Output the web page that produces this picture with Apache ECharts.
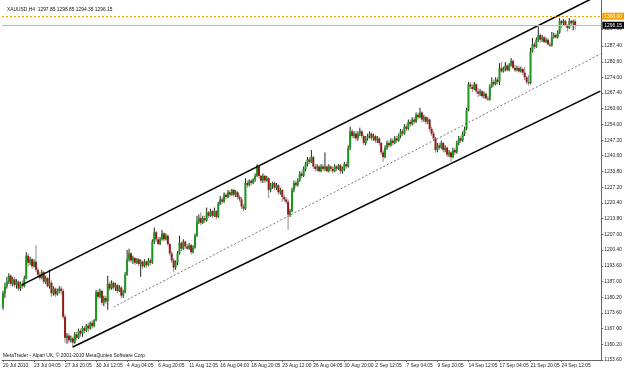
<!DOCTYPE html>
<html>
<head>
<meta charset="utf-8">
<script src="https://cdn.jsdelivr.net/npm/echarts@6/dist/echarts.min.js"></script>
<style>
  html, body { margin: 0; padding: 0; background: #fff; }
  #chart { width: 625px; height: 371px; }
</style>
</head>
<body>
<div id="chart"></div>
<script>
// time labels, one every 16 H4 bars
const xLabels = ["20 Jul 2010", "23 Jul 04:05", "27 Jul 20:05", "30 Jul 12:05", "4 Aug 04:05",
  "6 Aug 20:05", "11 Aug 12:05", "16 Aug 04:00", "18 Aug 20:05", "23 Aug 12:00", "26 Aug 04:05",
  "30 Aug 20:00", "2 Sep 12:05", "7 Sep 04:05", "9 Sep 20:05", "14 Sep 12:05", "17 Sep 04:05",
  "21 Sep 20:05", "24 Sep 12:05"];
const labelStep = 16;
const slotCount = 309; // bars + empty shift on the right

// [open, close, low, high]
const candles = [
  [1176, 1182, 1175, 1183], [1182, 1185, 1180, 1186.5], [1185, 1187, 1184, 1189], [1187, 1189.5, 1186, 1190.5],
  [1189.5, 1186, 1185, 1190], [1186, 1188, 1185, 1189], [1188, 1185.5, 1184.5, 1189], [1185.5, 1187, 1184, 1188],
  [1187, 1184, 1183, 1187.5], [1184, 1186, 1183, 1187], [1186, 1185, 1184, 1187.5], [1185, 1188.5, 1184.5, 1189.5],
  [1188.5, 1198, 1188, 1199.5], [1198, 1195, 1193.5, 1199], [1195, 1196.5, 1194, 1197.5], [1196.5, 1193.5, 1192.5, 1197],
  [1193.5, 1195.5, 1193, 1196.5], [1195.5, 1192, 1191, 1202.5], [1192, 1190, 1189, 1193], [1190, 1188.5, 1187.5, 1191],
  [1188.5, 1191, 1188, 1192], [1191, 1187, 1186, 1191.5], [1187, 1188.5, 1186, 1189.5], [1188.5, 1185, 1184.5, 1189],
  [1185, 1186.5, 1184, 1192], [1186.5, 1182, 1180.5, 1187.5], [1182, 1184, 1181, 1185], [1184, 1181.5, 1180.5, 1184.5],
  [1181.5, 1183, 1181, 1184], [1183, 1184, 1182, 1185], [1184, 1183, 1181.5, 1185], [1183, 1172, 1171, 1184],
  [1172, 1163, 1161, 1173], [1163, 1164, 1160.5, 1165], [1164, 1162, 1161, 1165], [1162, 1162.8, 1161, 1164],
  [1162.8, 1161, 1158.8, 1163.5], [1161, 1164.5, 1160.5, 1165.5], [1164.5, 1163, 1162, 1165.5], [1163, 1166, 1162.5, 1167],
  [1166, 1164.8, 1163.5, 1167], [1164.8, 1167.2, 1163.5, 1168], [1167.2, 1166, 1165, 1168], [1166, 1168.3, 1165.5, 1169],
  [1168.3, 1167, 1165.5, 1169.5], [1167, 1169.5, 1166.5, 1170], [1169.5, 1168, 1167, 1170.5], [1168, 1170.5, 1167.5, 1171],
  [1170.5, 1182.5, 1170, 1183.5], [1182.5, 1180.5, 1179.5, 1183.5], [1180.5, 1183, 1180, 1184], [1183, 1178, 1177, 1183.5],
  [1178, 1180, 1176.5, 1181], [1180, 1178.5, 1177.5, 1181], [1178.5, 1186, 1175, 1189.5], [1186, 1184, 1183, 1187],
  [1184, 1186.5, 1183.5, 1187.5], [1186.5, 1184.5, 1183.5, 1187], [1184.5, 1185.5, 1183, 1186.5], [1185.5, 1183, 1182, 1186],
  [1183, 1184.5, 1182.5, 1185.5], [1184.5, 1181, 1180, 1185], [1181, 1182.5, 1180, 1183.5], [1182.5, 1190, 1182, 1191],
  [1190, 1196.5, 1189.5, 1200.5], [1196.5, 1199, 1195.5, 1201], [1199, 1196, 1195, 1199.5], [1196, 1197, 1194.5, 1198],
  [1197, 1195, 1194, 1197.5], [1195, 1196.5, 1194.5, 1197], [1196.5, 1194.5, 1193.5, 1197], [1194.5, 1195.5, 1189, 1196.5],
  [1195.5, 1193.5, 1192.5, 1196], [1193.5, 1195.5, 1193, 1196.5], [1195.5, 1194, 1193, 1196], [1194, 1196, 1193.5, 1197],
  [1196, 1195, 1194, 1197], [1195, 1204, 1194.5, 1205], [1204, 1208, 1203, 1210], [1208, 1205, 1204, 1208.5],
  [1205, 1203, 1202.5, 1206], [1203, 1205, 1202.5, 1206], [1205, 1207.5, 1204.5, 1209], [1207.5, 1205, 1204, 1208],
  [1205, 1206.5, 1204.5, 1207.5], [1206.5, 1203, 1202, 1207], [1203, 1199, 1198, 1203.5], [1199, 1196, 1195, 1200],
  [1196, 1193, 1191, 1197], [1193, 1195, 1192, 1196], [1195, 1199, 1194, 1200], [1199, 1203.5, 1198.5, 1206.5],
  [1203.5, 1201, 1200, 1204], [1201, 1204, 1200.5, 1205], [1204, 1202, 1201, 1204.5], [1202, 1201, 1200.5, 1203],
  [1201, 1202.5, 1200.5, 1203.5], [1202.5, 1199.5, 1198.5, 1203], [1199.5, 1201.5, 1199, 1202.5], [1201.5, 1206.5, 1201, 1207.5],
  [1206.5, 1212.5, 1206, 1215], [1212.5, 1214, 1211.5, 1215.5], [1214, 1212, 1211, 1216.5], [1212, 1214, 1211.5, 1215],
  [1214, 1213, 1212, 1215], [1213, 1216.5, 1212.5, 1218.5], [1216.5, 1215, 1214, 1217], [1215, 1217, 1214.5, 1218],
  [1217, 1215, 1214, 1217.5], [1215, 1217, 1214.5, 1218.5], [1217, 1214.5, 1213.5, 1217.5], [1214.5, 1220, 1214, 1221],
  [1220, 1222, 1219.5, 1223.5], [1222, 1221, 1220, 1223], [1221, 1224, 1220.5, 1225], [1224, 1223, 1222, 1224.5],
  [1223, 1225, 1222.5, 1226], [1225, 1224, 1223, 1226], [1224, 1226, 1223.5, 1226.5], [1226, 1224, 1223, 1226.5],
  [1224, 1225, 1223, 1226], [1225, 1223, 1222, 1225.5], [1223, 1222, 1221, 1224], [1222, 1219, 1218, 1223],
  [1219, 1218, 1217, 1220], [1218, 1229, 1217.5, 1231], [1229, 1228, 1227, 1230], [1228, 1230, 1227.5, 1230.5],
  [1230, 1229, 1228, 1230.5], [1229, 1230.5, 1228.5, 1231], [1230.5, 1232, 1229.5, 1233], [1232, 1236, 1231.5, 1237],
  [1236, 1232, 1231, 1236.5], [1232, 1230, 1229, 1232.5], [1230, 1232, 1229, 1233], [1232, 1230, 1229, 1232.5],
  [1230, 1231, 1229.5, 1232], [1231, 1226, 1222.5, 1231.5], [1226, 1228, 1225, 1229], [1228, 1229, 1226.5, 1229.5],
  [1229, 1227, 1226, 1229.5], [1227, 1228, 1226, 1229], [1228, 1225, 1224, 1228.5], [1225, 1226, 1224, 1227],
  [1226, 1223, 1221, 1226.5], [1223, 1222, 1221, 1224], [1222, 1221, 1220, 1223], [1221, 1215.5, 1209, 1222],
  [1215.5, 1217, 1214.5, 1218], [1217, 1226, 1216.5, 1227], [1226, 1229, 1225, 1230], [1229, 1228, 1227, 1230],
  [1228, 1230, 1227.5, 1231], [1230, 1233, 1229.5, 1234], [1233, 1232, 1231, 1234], [1232, 1235, 1231.5, 1236],
  [1235, 1237, 1234, 1238], [1237, 1239, 1236, 1240], [1239, 1238, 1237, 1240], [1238, 1240, 1237.5, 1243],
  [1240, 1236, 1235, 1240.5], [1236, 1235, 1234, 1237], [1235, 1236, 1234, 1237], [1236, 1234, 1233.5, 1236.5],
  [1234, 1236, 1233.5, 1237], [1236, 1235, 1234, 1237], [1235, 1236, 1234, 1242], [1236, 1234, 1233.5, 1236.5],
  [1234, 1236, 1233.5, 1237], [1236, 1235, 1234, 1236.5], [1235, 1234, 1233, 1236], [1234, 1236, 1233.5, 1237],
  [1236, 1235, 1234, 1236.5], [1235, 1236.5, 1234.5, 1237], [1236.5, 1234, 1233, 1237], [1234, 1235, 1233, 1236],
  [1235, 1237, 1234, 1238], [1237, 1236, 1235, 1238], [1236, 1244, 1235.5, 1245], [1244, 1251, 1243, 1253],
  [1251, 1249, 1248, 1252], [1249, 1250, 1248, 1251], [1250, 1248, 1247, 1251], [1248, 1250, 1247, 1251],
  [1250, 1251, 1249, 1252.5], [1251, 1249, 1248, 1251.5], [1249, 1246, 1245, 1249.5], [1246, 1248, 1245, 1249],
  [1248, 1249, 1247, 1250], [1249, 1250, 1248, 1251], [1250, 1248, 1247, 1250.5], [1248, 1249, 1247, 1250],
  [1249, 1247, 1246, 1249.5], [1247, 1248, 1246, 1249], [1248, 1246, 1245, 1248.5], [1246, 1242, 1241, 1246.5],
  [1242, 1240, 1238, 1243], [1240, 1244, 1239.5, 1245], [1244, 1246, 1243, 1247], [1246, 1245, 1244, 1247],
  [1245, 1247, 1244.5, 1248], [1247, 1246, 1245, 1248], [1246, 1248, 1245.5, 1249], [1248, 1247, 1246, 1249],
  [1247, 1249, 1246.5, 1250], [1249, 1251, 1248, 1252], [1251, 1250, 1249, 1252], [1250, 1253, 1249.5, 1254],
  [1253, 1252, 1251, 1254], [1252, 1255, 1251.5, 1256], [1255, 1254, 1253, 1256], [1254, 1256, 1253.5, 1257],
  [1256, 1255, 1254, 1257], [1255, 1258, 1254.5, 1259], [1258, 1257, 1256, 1259], [1257, 1259, 1256.5, 1261],
  [1259, 1256, 1255, 1259.5], [1256, 1257, 1255, 1258], [1257, 1255, 1254, 1257.5], [1255, 1256, 1254, 1257],
  [1256, 1252, 1251, 1256.5], [1252, 1250, 1249, 1253], [1250, 1248, 1247, 1251], [1248, 1243, 1242, 1248.5],
  [1243, 1245, 1242, 1246], [1245, 1244, 1243, 1246], [1244, 1246, 1243.5, 1247], [1246, 1243, 1242, 1246.5],
  [1243, 1244, 1242, 1245], [1244, 1241, 1240, 1244.5], [1241, 1242, 1240, 1243], [1242, 1240, 1238, 1242.5],
  [1240, 1243, 1239.5, 1244], [1243, 1242, 1241, 1244], [1242, 1246, 1241.5, 1247], [1246, 1248, 1245, 1249],
  [1248, 1247, 1246, 1249], [1247, 1250, 1246.5, 1251], [1250, 1252, 1249, 1253], [1252, 1260, 1251.5, 1261],
  [1260, 1271, 1259.5, 1272], [1271, 1270, 1269, 1272], [1270, 1269, 1267.7, 1271], [1269, 1271, 1268.5, 1272],
  [1271, 1268, 1267, 1271.5], [1268, 1267, 1265.6, 1269.4], [1267, 1268, 1266, 1269], [1268, 1266, 1265, 1268.5],
  [1266, 1267, 1265, 1268], [1267, 1265, 1264.5, 1267.5], [1265, 1264.5, 1264, 1266], [1264.5, 1270, 1264, 1271],
  [1270, 1272, 1269.5, 1274], [1272, 1271, 1270, 1273], [1271, 1273, 1270.5, 1274], [1273, 1272, 1271, 1274],
  [1272, 1278, 1270.7, 1280], [1278, 1276.5, 1276, 1280.5], [1276.5, 1277.5, 1276, 1278.5], [1277.5, 1279, 1276.5, 1280.5],
  [1279, 1277, 1276.5, 1279.5], [1277, 1279, 1276.5, 1280], [1279, 1281, 1278.5, 1282.2], [1281, 1278, 1277.5, 1281.5],
  [1278, 1277, 1276.2, 1279.2], [1277, 1278, 1276.5, 1279], [1278, 1276.5, 1276, 1278.5], [1276.5, 1277.5, 1276, 1278.5],
  [1277.5, 1276, 1275, 1278], [1276, 1274, 1272.8, 1278.4], [1274, 1272, 1271, 1274.5], [1272, 1271.5, 1270.5, 1275],
  [1271.5, 1285, 1271, 1286.5], [1285, 1288, 1284.5, 1290.7], [1288, 1287, 1286, 1289], [1287, 1290, 1286.5, 1291],
  [1290, 1292, 1289, 1295.4], [1292, 1290, 1288.6, 1292.8], [1290, 1291, 1289, 1292], [1291, 1289, 1288.5, 1291.5],
  [1289, 1290, 1288.5, 1291], [1290, 1288, 1287.5, 1290.5], [1288, 1287.5, 1286.9, 1289], [1287.5, 1291, 1287, 1293.3],
  [1291, 1292, 1290.5, 1293], [1292, 1291, 1290.5, 1292.5], [1291, 1293, 1290.5, 1294], [1293, 1298, 1292.5, 1299.2],
  [1298, 1297, 1295, 1298.4], [1297, 1298, 1296, 1298.8], [1298, 1296, 1295.5, 1298.5], [1296, 1295, 1293.5, 1296.5],
  [1295, 1298, 1294.5, 1299.2], [1298, 1297, 1296, 1298.5], [1297, 1297.85, 1294, 1298.5], [1297.85, 1296.15, 1294.35, 1298.85]
];

const priceTicks = [1153.60, 1160.20, 1167.00, 1173.60, 1180.20, 1187.00, 1193.60, 1200.40, 1207.00,
  1213.80, 1220.40, 1227.20, 1233.80, 1240.60, 1247.20, 1254.00, 1260.60, 1267.40, 1274.00,
  1280.60, 1287.40, 1294.60];
const priceMin = 1153.6;
const priceMax = 1306.9;
const alertLevel = 1300.00;
const bidLevel = 1296.15;

// channel lines: [bar index, price]
const upperChannel = [[10, 1185.7], [308, 1309.3]];
const middleLine = [[57, 1176.2], [308, 1283.9]];
const lowerChannel = [[36, 1159.1], [308, 1268.1]];

const headerText = "XAUUSD,H4  1297.85 1298.85 1294.35 1296.15";
const footerText = "MetaTrader - Alpari UK, \u00a9 2001-2010 MetaQuotes Software Corp.";

const categories = [];
for (let i = 0; i < slotCount; i++) {
  categories.push(i % labelStep === 0 && xLabels[i / labelStep] ? xLabels[i / labelStep] : "");
}
const candleData = candles.map((c, i) => [i, c[0], c[1], c[2], c[3]]);

const FONT = "Liberation Sans";
const TXT = 4.9;
const bullColor = "#1a961a";
const bearColor = "#961818";

const chart = echarts.init(document.getElementById("chart"));

const options = {
  animation: false,
  backgroundColor: "#ffffff",
  title: {
    text: headerText,
    left: 2,
    top: 2,
    textStyle: { fontFamily: FONT, fontSize: TXT, fontWeight: "normal", color: "#111" },
  },
  graphic: [
    {
      type: "text",
      left: 3,
      top: 353,
      style: { text: footerText, font: TXT + "px " + FONT, fill: "#111" },
    },
  ],
  grid: { left: 0, right: 19, top: 0, bottom: 11 },
  xAxis: {
    type: "category",
    data: categories,
    boundaryGap: true,
    axisLine: { show: true, lineStyle: { color: "#666", width: 1 } },
    axisTick: {
      show: true,
      alignWithLabel: true,
      interval: (idx, val) => val !== "",
      length: 2,
      lineStyle: { color: "#666" },
    },
    axisLabel: {
      interval: 0,
      align: "left",
      margin: 3,
      fontFamily: FONT,
      fontSize: TXT,
      color: "#222",
    },
    splitLine: { show: false },
  },
  yAxis: {
    type: "value",
    position: "right",
    min: priceMin,
    max: priceMax,
    scale: true,
    axisLine: { show: true, lineStyle: { color: "#666", width: 1 } },
    axisTick: { show: true, customValues: priceTicks, length: 2, lineStyle: { color: "#666" } },
    axisLabel: {
      customValues: priceTicks,
      margin: 3,
      fontFamily: FONT,
      fontSize: TXT,
      color: "#222",
      formatter: (v) => v.toFixed(2),
    },
    splitLine: { show: false },
  },
  series: [
    {
      type: "custom",
      name: "XAUUSD",
      data: candleData,
      encode: { x: 0, y: [1, 2, 3, 4] },
      renderItem: function (params, api) {
        const i = api.value(0);
        const o = api.value(1), c = api.value(2), l = api.value(3), h = api.value(4);
        const pO = api.coord([i, o]);
        const pC = api.coord([i, c]);
        const pL = api.coord([i, l]);
        const pH = api.coord([i, h]);
        const up = c >= o;
        const x = pO[0];
        const top = Math.min(pO[1], pC[1]);
        const bot = Math.max(pO[1], pC[1]);
        return {
          type: "group",
          children: [
            {
              type: "line",
              shape: { x1: x, y1: pH[1], x2: x, y2: pL[1] },
              style: { stroke: up ? "#222" : "#8c8c8c", lineWidth: 1 },
            },
            {
              type: "rect",
              shape: { x: x - 1, y: top, width: 2, height: Math.max(bot - top, 0.8) },
              style: { fill: up ? bullColor : bearColor },
            },
          ],
        };
      },
      markLine: {
        silent: true,
        symbol: "none",
        data: [
          {
            yAxis: alertLevel,
            lineStyle: { color: "#f5a000", type: [2, 2], width: 1 },
            label: {
              position: "end", distance: 1, formatter: alertLevel.toFixed(2),
              backgroundColor: "#f5a000", color: "#fff", fontFamily: FONT, fontSize: TXT, padding: [1, 2],
            },
          },
          {
            yAxis: bidLevel,
            lineStyle: { color: "#b8b8b8", type: "solid", width: 1 },
            label: {
              position: "end", distance: 1, formatter: bidLevel.toFixed(2),
              backgroundColor: "#000", color: "#fff", fontFamily: FONT, fontSize: TXT, padding: [1, 2],
            },
          },
        ],
      },
    },
    {
      type: "line",
      data: upperChannel,
      symbol: "none",
      silent: true,
      lineStyle: { color: "#000", width: 1.6 },
    },
    {
      type: "line",
      data: middleLine,
      symbol: "none",
      silent: true,
      lineStyle: { color: "#555", width: 0.8, type: [2, 2] },
    },
    {
      type: "line",
      data: lowerChannel,
      symbol: "none",
      silent: true,
      lineStyle: { color: "#000", width: 1.6 },
    },
  ],
};

chart.setOption(options);
</script>
</body>
</html>
